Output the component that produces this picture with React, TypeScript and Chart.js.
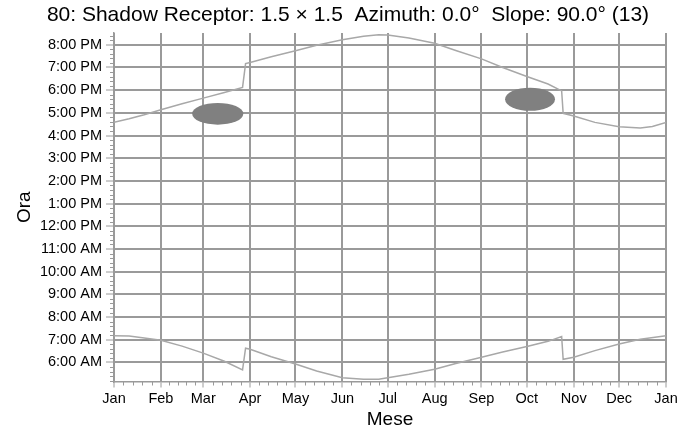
import React, { useEffect, useRef } from "react";
import { Chart, registerables } from "chart.js";

Chart.register(...registerables);

const titleText = "80: Shadow Receptor: 1.5 × 1.5  Azimuth: 0.0°  Slope: 90.0° (13)";
const xTitle = "Mese";
const yTitle = "Ora";

const monthDays = [0, 31, 59, 90, 120, 151, 181, 212, 243, 273, 304, 334, 365];
const monthLabels = ["Jan", "Feb", "Mar", "Apr", "May", "Jun", "Jul", "Aug", "Sep", "Oct", "Nov", "Dec", "Jan"];
const hourTicks = [6, 7, 8, 9, 10, 11, 12, 13, 14, 15, 16, 17, 18, 19, 20];

const sunsetDays = [0, 10, 20, 31, 45, 59, 73, 85, 87, 90, 104, 120, 134, 151, 165, 175, 181, 195, 212, 226, 243, 257, 273, 287, 296, 297, 304, 318, 334, 348, 356, 365];
const sunsetHours = [16.58, 16.74, 16.92, 17.14, 17.4, 17.65, 17.9, 18.12, 19.17, 19.22, 19.47, 19.74, 19.98, 20.22, 20.38, 20.44, 20.43, 20.3, 20.07, 19.75, 19.38, 19.0, 18.6, 18.27, 17.97, 16.98, 16.86, 16.58, 16.39, 16.33, 16.4, 16.58];

const sunriseDays = [0, 10, 20, 31, 45, 59, 73, 85, 87, 90, 104, 120, 134, 151, 165, 175, 181, 195, 212, 226, 243, 257, 273, 287, 296, 297, 304, 318, 334, 348, 365];
const sunriseHours = [7.18, 7.16, 7.08, 6.98, 6.72, 6.41, 6.05, 5.67, 6.63, 6.58, 6.25, 5.93, 5.62, 5.33, 5.26, 5.26, 5.33, 5.48, 5.7, 5.95, 6.23, 6.46, 6.7, 6.93, 7.14, 6.14, 6.23, 6.52, 6.81, 7.02, 7.18];

// shadow flicker regions (centre day, centre hour, half extents)
const shadowCenterDay = [68.6, 275.1];
const shadowCenterHour = [16.96, 17.6];
const shadowHalfDays = [16.9, 16.5];
const shadowHalfHours = [0.48, 0.51];

const FONT = "'Liberation Sans', Arial, sans-serif";
const GRID = "#9a9a9a";
const LINE = "#a8a8a8";

function hourLabel(h: number): string {
  if (h === 12) return "12:00 PM";
  if (h === 0) return "12:00 AM";
  return h < 12 ? `${h}:00 AM` : `${h - 12}:00 PM`;
}

const extrasPlugin = {
  id: "extras",
  beforeDatasetsDraw(chart: any) {
    const { ctx } = chart;
    const xs = chart.scales.x;
    const ys = chart.scales.y;
    ctx.save();
    ctx.fillStyle = "#808080";
    for (let i = 0; i < shadowCenterDay.length; i++) {
      const cx = xs.getPixelForValue(shadowCenterDay[i]);
      const cy = ys.getPixelForValue(shadowCenterHour[i]);
      const rx = Math.abs(xs.getPixelForValue(shadowCenterDay[i] + shadowHalfDays[i]) - cx);
      const ry = Math.abs(ys.getPixelForValue(shadowCenterHour[i] + shadowHalfHours[i]) - cy);
      ctx.beginPath();
      ctx.ellipse(cx, cy, rx, ry, 0, 0, Math.PI * 2);
      ctx.fill();
    }
    ctx.restore();
  },
  afterDraw(chart: any) {
    const { ctx, chartArea } = chart;
    const xs = chart.scales.x;
    const ys = chart.scales.y;
    ctx.save();
    ctx.strokeStyle = GRID;
    ctx.lineWidth = 1;
    // x minor ticks
    for (let i = 0; i < monthDays.length - 1; i++) {
      for (let k = 1; k < 5; k++) {
        const v = monthDays[i] + ((monthDays[i + 1] - monthDays[i]) * k) / 5;
        const px = Math.round(xs.getPixelForValue(v)) + 0.5;
        ctx.beginPath();
        ctx.moveTo(px, chartArea.bottom);
        ctx.lineTo(px, chartArea.bottom + 4);
        ctx.stroke();
      }
    }
    // y minor ticks
    const start = Math.ceil(ys.min * 5);
    const end = Math.floor(ys.max * 5);
    for (let s = start; s <= end; s++) {
      if (s % 5 === 0) continue;
      const py = Math.round(ys.getPixelForValue(s / 5)) + 0.5;
      ctx.beginPath();
      ctx.moveTo(chartArea.left, py);
      ctx.lineTo(chartArea.left - 4, py);
      ctx.stroke();
    }
    // title
    ctx.fillStyle = "#000";
    ctx.font = `21px ${FONT}`;
    ctx.textAlign = "center";
    ctx.textBaseline = "middle";
    ctx.fillText(titleText, chart.width / 2, 15);
    ctx.restore();
  },
};

export default function App() {
  const ref = useRef<HTMLCanvasElement>(null);
  useEffect(() => {
    document.body.style.margin = "0";
    const canvas = ref.current!;
    const chart = new Chart(canvas, {
      type: "line",
      data: {
        datasets: [
          {
            label: "sunset",
            data: sunsetDays.map((d, i) => ({ x: d, y: sunsetHours[i] })),
            borderColor: LINE,
            borderWidth: 1.5,
            pointRadius: 0,
            tension: 0,
          },
          {
            label: "sunrise",
            data: sunriseDays.map((d, i) => ({ x: d, y: sunriseHours[i] })),
            borderColor: LINE,
            borderWidth: 1.5,
            pointRadius: 0,
            tension: 0,
          },
        ],
      },
      options: {
        animation: false,
        responsive: false,
        maintainAspectRatio: false,
        layout: { padding: { top: 33, right: 30, left: 0, bottom: 0 } },
        plugins: { legend: { display: false }, tooltip: { enabled: false }, title: { display: false } },
        scales: {
          x: {
            type: "linear",
            min: 0,
            max: 365,
            afterBuildTicks: (scale: any) => {
              scale.ticks = monthDays.map((v) => ({ value: v }));
            },
            afterFit: (scale: any) => {
              scale.height = 51.5;
            },
            ticks: {
              autoSkip: false,
              maxRotation: 0,
              padding: 3,
              color: "#000",
              font: { family: FONT, size: 14.5 },
              callback: (v: any, i: number) => monthLabels[i],
            },
            grid: { color: GRID, lineWidth: 2, tickLength: 6, tickColor: GRID, tickWidth: 1 },
            border: { color: GRID, width: 1.5 },
            title: {
              display: true,
              text: xTitle,
              color: "#000",
              font: { family: FONT, size: 19 },
              padding: { top: 0, bottom: 1.6 },
            },
          },
          y: {
            type: "linear",
            min: 5.16,
            max: 20.52,
            afterBuildTicks: (scale: any) => {
              scale.ticks = hourTicks.map((v) => ({ value: v }));
            },
            afterFit: (scale: any) => {
              scale.width = 114;
            },
            ticks: {
              autoSkip: false,
              padding: 4,
              color: "#000",
              font: { family: FONT, size: 14.5 },
              callback: (v: any) => hourLabel(Number(v)),
            },
            grid: { color: GRID, lineWidth: 2, tickLength: 8, tickColor: GRID, tickWidth: 1 },
            border: { color: GRID, width: 1.5 },
            title: {
              display: true,
              text: yTitle,
              color: "#000",
              font: { family: FONT, size: 19 },
              padding: { top: 13.6, bottom: 0 },
            },
          },
        },
      },
      plugins: [extrasPlugin],
    } as any);
    return () => chart.destroy();
  }, []);
  return (
    <div style={{ width: 696, height: 433 }}>
      <canvas ref={ref} width={696} height={433} style={{ display: "block" }} />
    </div>
  );
}
